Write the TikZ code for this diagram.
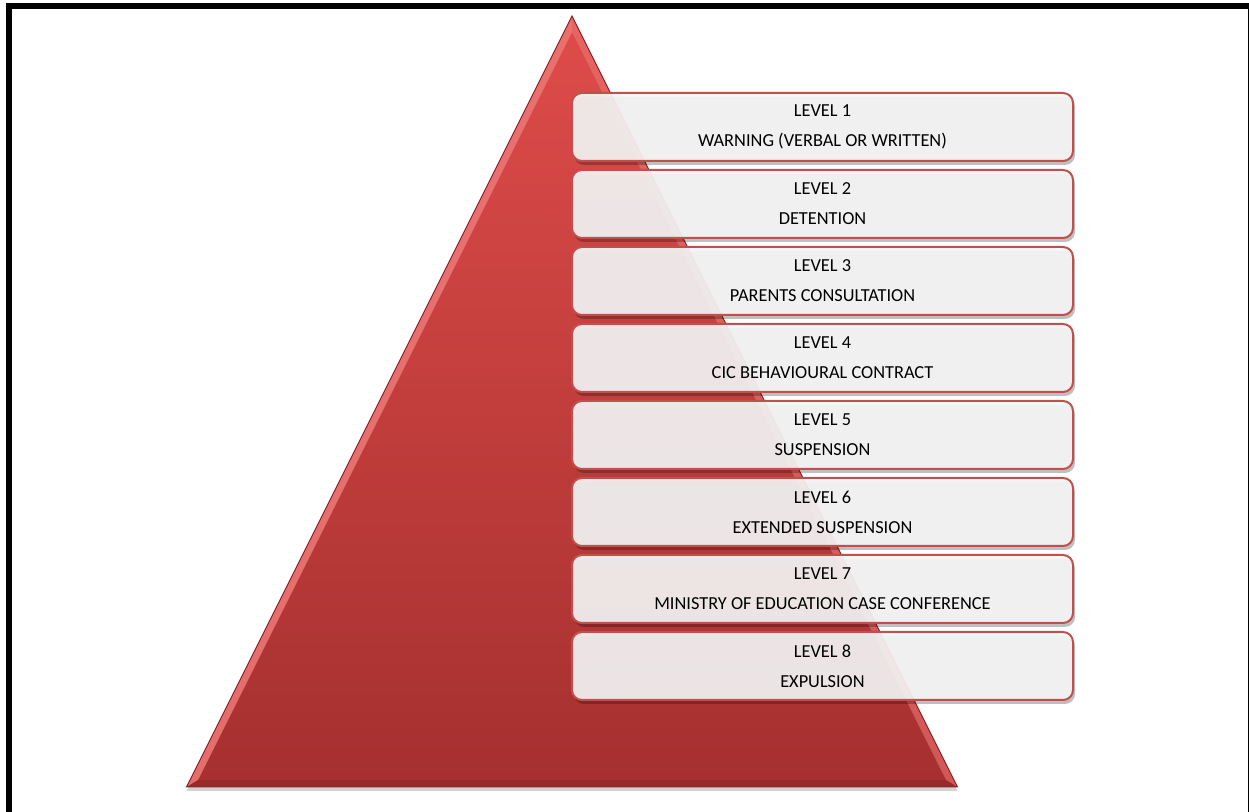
\documentclass[tikz,border=0pt]{standalone}
\usepackage{fontspec}
\setmainfont{Carlito}
\usetikzlibrary{shadows}

\definecolor{pyrtop}{HTML}{DE4C4A}
\definecolor{pyrmid}{HTML}{C43B3A}
\definecolor{pyrbot}{HTML}{A5302F}
\definecolor{pyredge}{HTML}{8A2624}
\definecolor{bevlight}{HTML}{EC7573}
\definecolor{bevdark}{HTML}{8E2727}
\definecolor{boxline}{HTML}{C0504D}
\definecolor{boxfill}{HTML}{F5F5F5}

\begin{document}
\begin{tikzpicture}[x=0.6pt,y=-0.6pt,
    level/.style={
        draw=boxline,line width=1.2pt,fill=boxfill,fill opacity=.92,
        text opacity=1,text=black,rounded corners=6pt,
        minimum width=300.6pt,minimum height=40.8pt,align=center,
        font={\fontsize{11}{18}\selectfont},
        drop shadow={shadow xshift=1.2pt,shadow yshift=-2.4pt,
                     opacity=.25,fill=black}},
    ]
    % Page size
    \useasboundingbox (0,0) rectangle (1249,812);

    % Frame
    \draw[line width=3.6pt] (9,815) -- (9,6) -- (1251,6) -- (1251,815);

    % Pyramid corners
    \coordinate (apex) at (572,16);
    \coordinate (bl) at (186.5,787);
    \coordinate (br) at (957.5,787);
    \coordinate (iapex) at (572,32);
    \coordinate (ibl) at (198,780);
    \coordinate (ibr) at (946,780);

    % Pyramid body
    \shade[top color=pyrtop,middle color=pyrmid,bottom color=pyrbot,
           drop shadow={shadow xshift=0pt,shadow yshift=-2.4pt,opacity=.35}]
        (apex) -- (bl) -- (br) -- cycle;

    % Bevel
    \fill[bevlight,opacity=.9] (apex) -- (bl) -- (ibl) -- (iapex) -- cycle;
    \fill[bevlight,opacity=.6] (apex) -- (br) -- (ibr) -- (iapex) -- cycle;
    \fill[bevdark,opacity=.55] (bl) -- (br) -- (ibr) -- (ibl) -- cycle;
    \draw[pyredge,line width=.6pt] (apex) -- (bl) -- (br) -- cycle;

    % Levels
    \node[level] (lvl1) at (822.5,127) {LEVEL 1\\WARNING (VERBAL OR WRITTEN)};
    \node[level] (lvl2) at (822.5,204) {LEVEL 2\\DETENTION};
    \node[level] (lvl3) at (822.5,281) {LEVEL 3\\PARENTS CONSULTATION};
    \node[level] (lvl4) at (822.5,358) {LEVEL 4\\CIC BEHAVIOURAL CONTRACT};
    \node[level] (lvl5) at (822.5,435) {LEVEL 5\\SUSPENSION};
    \node[level] (lvl6) at (822.5,512) {LEVEL 6\\EXTENDED SUSPENSION};
    \node[level] (lvl7) at (822.5,589) {LEVEL 7\\MINISTRY OF EDUCATION CASE CONFERENCE};
    \node[level] (lvl8) at (822.5,666) {LEVEL 8\\EXPULSION};

\end{tikzpicture}
\end{document}
